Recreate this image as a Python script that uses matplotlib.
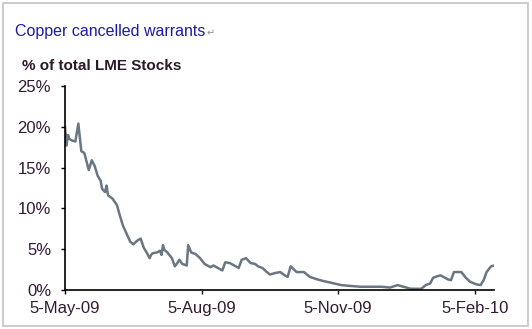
import pandas as pd
import matplotlib
matplotlib.use('Agg')
import matplotlib.pyplot as plt
import matplotlib.dates as mdates
import matplotlib.patches as patches
from matplotlib.ticker import FuncFormatter

plt.rcParams['font.family'] = ['Liberation Sans', 'DejaVu Sans']

# Days after 5-May-09 and % of total LME stocks
day_offsets = [0, 1, 2, 3, 5, 7, 9, 11, 13, 16, 18, 20, 22, 24, 25, 27, 28, 29, 32, 35,
               37, 39, 42, 44, 46, 49, 51, 53, 55, 57, 58, 59, 62, 64, 65, 66, 67, 69, 72, 74,
               76, 77, 79, 82, 83, 85, 88, 91, 94, 98, 100, 103, 106, 108, 111, 115, 117, 119, 122, 125,
               128, 130, 133, 136, 138, 142, 145, 148, 150, 152, 156, 161, 165, 170, 174, 179, 186, 192, 199, 208,
               213, 219, 224, 228, 233, 240, 243, 246, 248, 251, 253, 255, 258, 260, 262, 265, 267, 270, 273, 277,
               280, 282, 284, 287, 289]
pct_values = [20.0, 17.7, 19.0, 18.5, 18.3, 18.2, 20.4, 17.0, 16.8, 14.7, 15.9, 15.2, 14.0, 13.4, 12.4, 12.0, 12.8, 11.6, 11.2, 10.4,
              9.1, 7.9, 6.7, 5.9, 5.6, 6.1, 6.3, 5.2, 4.6, 3.9, 4.3, 4.5, 4.6, 4.8, 4.3, 5.5, 4.9, 4.6, 3.9, 2.9,
              3.4, 3.7, 3.2, 3.0, 5.5, 4.6, 4.4, 3.9, 3.2, 2.8, 3.0, 2.7, 2.4, 3.4, 3.3, 2.9, 2.7, 3.7, 3.9, 3.3,
              3.2, 2.9, 2.7, 2.2, 1.9, 2.1, 2.2, 1.8, 1.6, 2.9, 2.2, 2.2, 1.6, 1.3, 1.1, 0.9, 0.6, 0.5, 0.4, 0.4,
              0.4, 0.3, 0.6, 0.4, 0.15, 0.15, 0.6, 0.8, 1.5, 1.7, 1.8, 1.6, 1.3, 1.2, 2.2, 2.2, 2.2, 1.5, 1.0, 0.7,
              0.6, 1.2, 2.2, 2.9, 3.0]
start_date = pd.Timestamp('2009-05-05')
tick_dates = ['2009-05-05', '2009-08-05', '2009-11-05', '2010-02-05']
y_ticks = [0, 5, 10, 15, 20, 25]

dates = start_date + pd.to_timedelta(day_offsets, unit='D')

fig = plt.figure(figsize=(5.32, 3.29), dpi=100)
ax = fig.add_axes([65 / 532, 1 - 290 / 329, 429 / 532, 204 / 329])

ax.plot(dates, pct_values, color='#6a7681', linewidth=1.8)

ax.set_xlim(start_date, pd.Timestamp('2010-02-18'))
ax.set_ylim(0, 25)

label_color = '#331a33'
ax.set_yticks(y_ticks)
ax.yaxis.set_major_formatter(FuncFormatter(lambda v, p: f'{v:.0f}%'))
ax.set_xticks(pd.to_datetime(tick_dates))
ax.xaxis.set_major_formatter(mdates.DateFormatter('%-d-%b-%y'))

ax.tick_params(axis='y', length=3, width=1, pad=7, labelsize=12, labelcolor=label_color)
ax.tick_params(axis='x', length=3, width=1, pad=5, labelsize=12, labelcolor=label_color)

for side in ['top', 'right']:
    ax.spines[side].set_visible(False)
for side in ['left', 'bottom']:
    ax.spines[side].set_linewidth(1.2)
    ax.spines[side].set_color('black')

# Title and axis caption
fig.text(15 / 532, 1 - 36 / 329, 'Copper cancelled warrants', color='#1a1aa8',
         fontsize=11.5, va='baseline', ha='left')
fig.text(207 / 532, 1 - 36 / 329, '\u21b5', color='#909090', fontsize=7,
         va='baseline', ha='left', family=['DejaVu Sans'])
fig.text(22 / 532, 1 - 70 / 329, '% of total LME Stocks', color='#2a1a2a',
         fontsize=11, fontweight='bold', va='baseline', ha='left')

# Outer frame
frame = patches.Rectangle((3 / 532, 3 / 329), 525 / 532, 323 / 329, transform=fig.transFigure,
                          fill=False, edgecolor='#c4c4c4', linewidth=1.2)
fig.patches.append(frame)

fig.savefig('out.png', dpi=100)
